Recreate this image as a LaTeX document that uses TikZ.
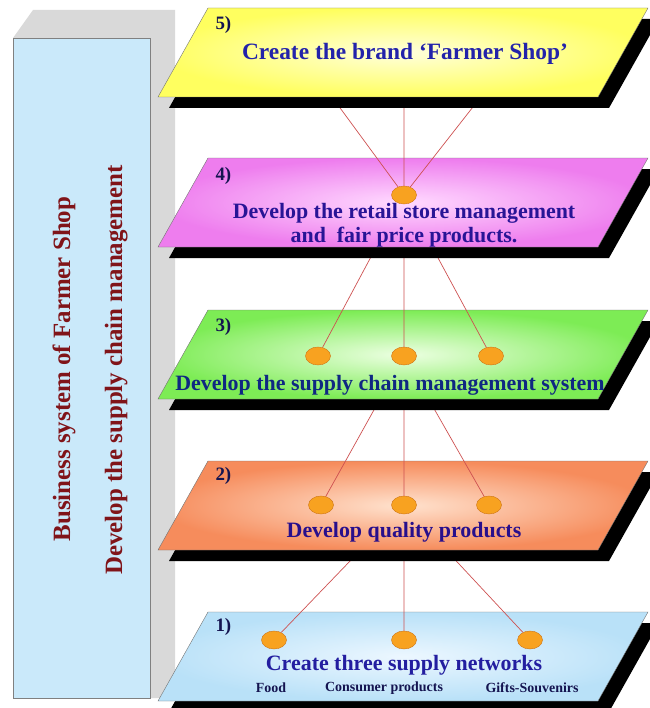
\documentclass[tikz,border=0pt]{standalone}
\usepackage{fontspec}
\setmainfont{Liberation Serif}
\usetikzlibrary{shapes.geometric}
\definecolor{sidegray}{RGB}{217,217,217}
\definecolor{sideblue}{RGB}{202,233,250}
\definecolor{shopred}{RGB}{128,20,25}
\definecolor{numblue}{RGB}{20,20,80}
\definecolor{dotfill}{RGB}{248,162,32}
\definecolor{dotedge}{RGB}{205,115,20}
\definecolor{wirered}{RGB}{205,80,80}
\definecolor{yelout}{RGB}{255,255,95}  \definecolor{yelin}{RGB}{255,255,220}
\definecolor{pinkout}{RGB}{238,125,238}\definecolor{pinkin}{RGB}{255,218,255}
\definecolor{grnout}{RGB}{125,236,85}  \definecolor{grnin}{RGB}{236,255,226}
\definecolor{orgout}{RGB}{246,140,92}  \definecolor{orgin}{RGB}{255,226,206}
\definecolor{bluout}{RGB}{185,225,248} \definecolor{bluin}{RGB}{236,247,255}
\def\slab#1#2#3% Syntax: {top y}{edge colour}{centre colour}
    { \fill[black] (169,#1+100) -- (219,#1+11) -- (659,#1+11) -- (609,#1+100) -- cycle;
      \shade[draw=black!55, outer color=#2, inner color=#3] (158,#1+89) -- (208,#1) -- (648,#1) -- (598,#1+89) -- cycle; }

\begin{document}
\begin{tikzpicture}[x=1bp,y=-1bp,
   blob/.style={ellipse, draw=dotedge, fill=dotfill, minimum width=25bp, minimum height=18bp, inner sep=0pt},
   wire/.style={draw=wirered, line width=0.7pt},
   num/.style={anchor=west, text=numblue, font=\bfseries\fontsize{19}{21}\selectfont},
   txt/.style={font=\bfseries\fontsize{22}{24}\selectfont, align=center},
   subtxt/.style={font=\bfseries\fontsize{14}{16}\selectfont, text=numblue},
   side/.style={rotate=90, anchor=base, text=shopred, font=\bfseries\fontsize{25}{27}\selectfont}]
   \useasboundingbox (0,0) rectangle (650,708);
   \clip (0,0) rectangle (650,708);

   % the side block
   \fill[sidegray] (13,38) -- (33,10) -- (175,10) -- (175,698) -- (13,698) -- cycle;
   \draw[black!50, fill=sideblue] (13,38) rectangle (150,698);
   \node[side] (bus) at (70,369) {Business system of Farmer Shop};
   \node[side] (dev) at (122,370) {Develop the supply chain management};

   \coordinate (c2) at (404,505);
   \coordinate (c3) at (404,356);
   \coordinate (c4) at (404,195);

   % 1) supply networks
   \slab{612}{bluout}{bluin}
   \node[num] (n1) at (212,627) {1)};
   \node[blob] (d11) at (274,640) {};
   \node[blob] (d12) at (404,640) {};
   \node[blob] (d13) at (530,640) {};
   \node[txt, text={rgb,255:red,35;green,30;blue,160}] (t1) at (404,665) {Create three supply networks};
   \node[subtxt] (food) at (271,688) {Food};
   \node[subtxt] (cons) at (384,688) {Consumer products};
   \node[subtxt] (gift) at (532,688) {Gifts-Souvenirs};
   \draw[wire] (c2) -- (d11) (c2) -- (d12) (c2) -- (d13);

   % 2) quality products
   \slab{461}{orgout}{orgin}
   \node[num] (n2) at (212,476) {2)};
   \node[blob] (d21) at (321,505) {};
   \node[blob] (d22) at (c2) {};
   \node[blob] (d23) at (489,505) {};
   \node[txt, text={rgb,255:red,40;green,15;blue,140}] (t2) at (404,532) {Develop quality products};
   \draw[wire] (c3) -- (d21) (c3) -- (d22) (c3) -- (d23);

   % 3) supply chain
   \slab{310}{grnout}{grnin}
   \node[num] (n3) at (212,327) {3)};
   \node[blob] (d31) at (318,356) {};
   \node[blob] (d32) at (c3) {};
   \node[blob] (d33) at (491,356) {};
   \node[txt, text={rgb,255:red,15;green,40;blue,130}] (t3) at (390,385) {Develop the supply chain management system};
   \draw[wire] (c4) -- (d31) (c4) -- (d32) (c4) -- (d33);

   % 4) retail store
   \slab{158}{pinkout}{pinkin}
   \node[num] (n4) at (212,176) {4)};
   \node[blob] (d4) at (c4) {};
   \node[txt, text={rgb,255:red,40;green,20;blue,150}] (t4) at (404,225) {Develop the retail store management\\and\ \ fair price products.};
   \coordinate (y5l) at (299,52);
   \coordinate (y5m) at (404,52);
   \coordinate (y5r) at (516,52);
   \draw[wire] (d4) -- (y5l) (d4) -- (y5m) (d4) -- (y5r);

   % 5) the brand
   \slab{8}{yelout}{yelin}
   \node[num] (n5) at (212,25) {5)};
   \node[txt, text={rgb,255:red,35;green,35;blue,170}, font=\bfseries\fontsize{23.5}{26}\selectfont] (t5) at (405,54) {Create the brand ‘Farmer Shop’};
\end{tikzpicture}
\end{document}
